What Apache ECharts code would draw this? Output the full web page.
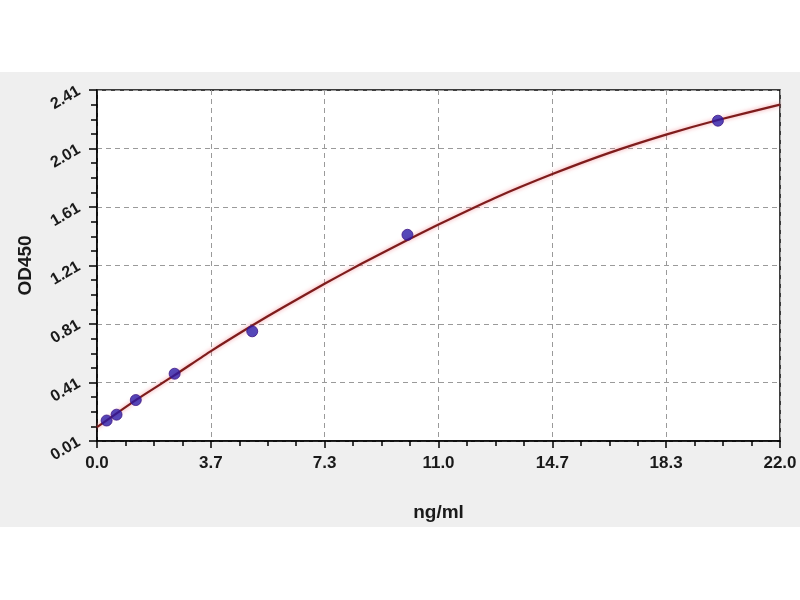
<!DOCTYPE html>
<html>
<head>
<meta charset="utf-8">
<script src="https://cdn.jsdelivr.net/npm/echarts@6/dist/echarts.min.js"></script>
<style>
html,body{margin:0;padding:0;background:#ffffff;width:800px;height:600px;overflow:hidden;}
#chart{position:absolute;left:0;top:72px;width:800px;height:455px;background:#efefef;}
</style>
</head>
<body>
<div id="chart"></div>
<script>
// Standard points (concentration ng/ml, OD450)
const stdConc = [0.31, 0.63, 1.25, 2.5, 5, 10, 20];
const stdOD   = [0.15, 0.19, 0.29, 0.47, 0.76, 1.42, 2.20];
// Fitted curve
const curveConc = [0, 1.25, 2.5, 3.67, 5, 6, 7.33, 8.5, 10, 11, 12.8, 14.67, 16.5, 18.33, 20, 22];
const curveOD   = [0.105, 0.29, 0.46, 0.625, 0.80, 0.925, 1.085, 1.22, 1.385, 1.49, 1.67, 1.835, 1.98, 2.105, 2.205, 2.31];
// Axis ticks
const xTicks = ['0.0', '3.7', '7.3', '11.0', '14.7', '18.3', '22.0'];
const yTicks = ['0.01', '0.41', '0.81', '1.21', '1.61', '2.01', '2.41'];
const Y_OFFSET = 0.01; // y axis starts at 0.01

const chart = echarts.init(document.getElementById('chart'));
const labelFont = {color:'#1a1a1a', fontWeight:'bold', fontFamily:'Liberation Sans, Arial, sans-serif', fontSize:16};
chart.setOption({
  animation:false,
  backgroundColor:'#efefef',
  grid:{left:97, right:20, top:18, bottom:83, show:true, backgroundColor:'#ffffff', borderColor:'#000', borderWidth:1.5},
  xAxis:{
    type:'value', min:0, max:22, interval:22/6,
    name:'ng/ml', nameLocation:'middle', nameGap:62,
    nameTextStyle:{color:'#1a1a1a', fontWeight:'bold', fontSize:19, fontFamily:'Liberation Sans, Arial, sans-serif'},
    axisLine:{show:true, onZero:false, lineStyle:{color:'#000', width:1.5}},
    axisTick:{show:true, inside:false, length:7, lineStyle:{color:'#000', width:1.5}},
    minorTick:{show:true, splitNumber:4, length:5, lineStyle:{color:'#000', width:1.5}},
    axisLabel:Object.assign({margin:14, fontSize:17, formatter:(v)=>{const i=Math.round(v/(22/6)); return xTicks[i];}}, {color:'#1a1a1a', fontWeight:'bold', fontFamily:'Liberation Sans, Arial, sans-serif'}),
    splitLine:{show:true, lineStyle:{color:'#9a9a9a', type:[5,4], width:1}}
  },
  yAxis:{
    type:'value', min:0, max:2.4, interval:0.4,
    name:'OD450', nameLocation:'middle', nameGap:62,
    nameTextStyle:{color:'#1a1a1a', fontWeight:'bold', fontSize:19, fontFamily:'Liberation Sans, Arial, sans-serif'},
    axisLine:{show:true, onZero:false, lineStyle:{color:'#000', width:1.5}},
    axisTick:{show:true, inside:false, length:8, lineStyle:{color:'#000', width:1.5}},
    minorTick:{show:true, splitNumber:4, length:6, lineStyle:{color:'#000', width:1.5}},
    axisLabel:Object.assign({margin:18, rotate:30, formatter:(v)=>{const i=Math.round(v/0.4); return yTicks[i];}}, labelFont),
    splitLine:{show:true, lineStyle:{color:'#9a9a9a', type:[5,4], width:1}}
  },
  series:[
    {
      type:'line', smooth:0.2, symbol:'none',
      data:curveConc.map((x,i)=>[x, curveOD[i]-Y_OFFSET]),
      lineStyle:{color:'#7e1c1c', width:2.2, shadowColor:'rgba(240,120,130,0.8)', shadowBlur:4},
      z:2
    },
    {
      type:'scatter', symbol:'circle', symbolSize:11,
      data:stdConc.map((x,i)=>[x, stdOD[i]-Y_OFFSET]),
      itemStyle:{color:'#2a1aa8', borderColor:'#3f1585', borderWidth:1},
      z:3
    }
  ]
});
</script>
</body>
</html>
